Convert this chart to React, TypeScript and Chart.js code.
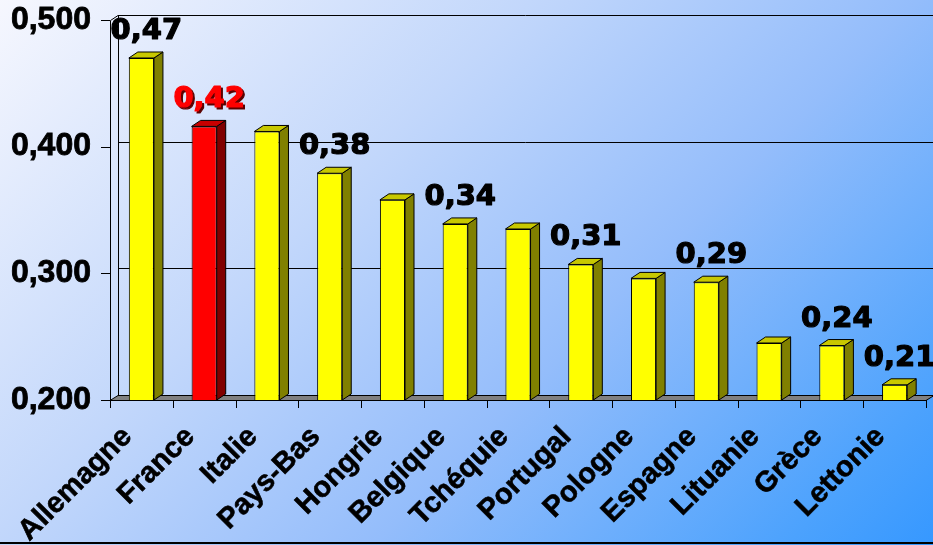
import { useEffect, useRef } from 'react';
import { Chart, registerables } from 'chart.js';

Chart.register(...registerables);

const countries = ['Allemagne', 'France', 'Italie', 'Pays-Bas', 'Hongrie', 'Belgique', 'Tchéquie', 'Portugal', 'Pologne', 'Espagne', 'Lituanie', 'Grèce', 'Lettonie'];
const values = [0.470, 0.416, 0.412, 0.379, 0.358, 0.339, 0.335, 0.307, 0.296, 0.293, 0.245, 0.243, 0.212];
const valueLabels = ['0,47', '0,42', '', '0,38', '', '0,34', '', '0,31', '', '0,29', '', '0,24', '0,21'];
const highlighted = ['France'];
const yMin = 0.2;
const yMax = 0.5;
const yStep = 0.1;

const W = 933;
const H = 545;
const WALL_DX = 8;
const WALL_DY = -5;
const BAR_DX = 9;
const BAR_DY = -6;
const AXIS_FONT = 'Arial, "Liberation Sans", sans-serif';
const LABEL_FONT = '"DejaVu Sans", Verdana, sans-serif';

const colorsFor = (name: string) =>
  highlighted.includes(name)
    ? { front: '#ff0000', side: '#800000', top: '#c80000' }
    : { front: '#ffff00', side: '#808000', top: '#c8c800' };

const backgroundPlugin = {
  id: 'bg',
  beforeDraw(chart: any) {
    const ctx = chart.ctx;
    const d = (W + H) / 2;
    const g = ctx.createLinearGradient(0, 0, d, d);
    g.addColorStop(0, '#f6f7fe');
    g.addColorStop(0.36, '#c2d7fb');
    g.addColorStop(0.62, '#94bdfb');
    g.addColorStop(0.9, '#4ca2fd');
    g.addColorStop(1, '#3698ff');
    ctx.save();
    ctx.fillStyle = g;
    ctx.fillRect(0, 0, W, H);
    ctx.restore();
  },
  afterDraw(chart: any) {
    const ctx = chart.ctx;
    ctx.save();
    ctx.fillStyle = '#000';
    ctx.fillRect(0, 542, W, 2);
    ctx.restore();
  },
};

const framePlugin = {
  id: 'frame3d',
  beforeDatasetsDraw(chart: any) {
    const ctx = chart.ctx;
    const { left, right, top, bottom } = chart.chartArea;
    const ys = chart.scales.y;
    ctx.save();
    ctx.strokeStyle = '#000';
    ctx.lineWidth = 1;
    // floor
    ctx.beginPath();
    ctx.moveTo(left, bottom + 0.5);
    ctx.lineTo(right, bottom + 0.5);
    ctx.lineTo(right + WALL_DX, bottom + WALL_DY + 0.5);
    ctx.lineTo(left + WALL_DX, bottom + WALL_DY + 0.5);
    ctx.closePath();
    ctx.fillStyle = '#808080';
    ctx.fill();
    ctx.stroke();
    // back gridlines
    for (let v = yMin + yStep; v <= yMax + 1e-9; v += yStep) {
      const y = Math.round(ys.getPixelForValue(v) + WALL_DY) + 0.5;
      ctx.beginPath();
      ctx.moveTo(left + WALL_DX, y);
      ctx.lineTo(W, y);
      ctx.stroke();
    }
    // back left edge
    ctx.beginPath();
    ctx.moveTo(left + WALL_DX + 0.5, top + WALL_DY);
    ctx.lineTo(left + WALL_DX + 0.5, bottom + WALL_DY);
    ctx.stroke();
    // front axis + top diagonal
    ctx.beginPath();
    ctx.moveTo(left + WALL_DX, top + WALL_DY + 0.5);
    ctx.lineTo(left + 0.5, top + 0.5);
    ctx.lineTo(left + 0.5, bottom);
    ctx.stroke();
    // y tick marks
    for (let v = yMin; v <= yMax + 1e-9; v += yStep) {
      const y = Math.round(ys.getPixelForValue(v)) + 0.5;
      ctx.beginPath();
      ctx.moveTo(left - 9, y);
      ctx.lineTo(left, y);
      ctx.stroke();
    }
    // x tick marks at category boundaries
    const n = countries.length;
    for (let i = 0; i <= n; i++) {
      const x = Math.round(left + ((right - left) * i) / n) + 0.5;
      ctx.beginPath();
      ctx.moveTo(x, bottom);
      ctx.lineTo(x, bottom + 8);
      ctx.stroke();
    }
    ctx.restore();
  },
  afterDatasetsDraw(chart: any) {
    const ctx = chart.ctx;
    const meta = chart.getDatasetMeta(0);
    const bottom = chart.chartArea.bottom;
    ctx.save();
    ctx.strokeStyle = '#000';
    ctx.lineWidth = 1;
    meta.data.forEach((bar: any, i: number) => {
      const c = colorsFor(countries[i]);
      const l = bar.x - bar.width / 2;
      const r = bar.x + bar.width / 2;
      const t = bar.y;
      const b = Math.min(bar.base, bottom);
      // side
      ctx.beginPath();
      ctx.moveTo(r, t);
      ctx.lineTo(r + BAR_DX, t + BAR_DY);
      ctx.lineTo(r + BAR_DX, b + BAR_DY);
      ctx.lineTo(r, b);
      ctx.closePath();
      ctx.fillStyle = c.side;
      ctx.fill();
      ctx.stroke();
      // top
      ctx.beginPath();
      ctx.moveTo(l, t);
      ctx.lineTo(l + BAR_DX, t + BAR_DY);
      ctx.lineTo(r + BAR_DX, t + BAR_DY);
      ctx.lineTo(r, t);
      ctx.closePath();
      ctx.fillStyle = c.top;
      ctx.fill();
      ctx.stroke();
    });
    // value labels
    ctx.font = `bold 29px ${LABEL_FONT}`;
    ctx.textAlign = 'center';
    ctx.textBaseline = 'alphabetic';
    ctx.lineJoin = 'round';
    meta.data.forEach((bar: any, i: number) => {
      const txt = valueLabels[i];
      if (!txt) return;
      const x = bar.x + 5;
      const y = bar.y - 19;
      const draw = (color: string, dx: number, dy: number) => {
        ctx.fillStyle = color;
        ctx.strokeStyle = color;
        ctx.lineWidth = 1.2;
        ctx.fillText(txt, x + dx, y + dy);
        ctx.strokeText(txt, x + dx, y + dy);
      };
      if (highlighted.includes(countries[i])) {
        draw('#5a0000', 2, 2);
        draw('#ff0000', 0, 0);
      } else {
        draw('#000', 0, 0);
      }
    });
    ctx.restore();
  },
};

export default function App() {
  const ref = useRef<HTMLCanvasElement | null>(null);

  useEffect(() => {
    if (!ref.current) return;
    const chart = new Chart(ref.current, {
      type: 'bar',
      data: {
        labels: countries,
        datasets: [
          {
            data: values,
            backgroundColor: countries.map((c) => colorsFor(c).front),
            borderColor: '#000',
            borderWidth: 1,
            barPercentage: 0.4,
            categoryPercentage: 1,
          },
        ],
      },
      options: {
        responsive: false,
        animation: false,
        devicePixelRatio: 1,
        layout: { padding: { left: 0, right: 7, top: 20, bottom: 0 } },
        plugins: { legend: { display: false }, tooltip: { enabled: false }, title: { display: false } },
        scales: {
          x: {
            grid: { display: false, drawTicks: false },
            border: { display: false },
            ticks: {
              autoSkip: false,
              maxRotation: 45,
              minRotation: 45,
              padding: 20,
              labelOffset: -14,
              color: '#000',
              textStrokeColor: '#000',
              textStrokeWidth: 0.6,
              font: { family: AXIS_FONT, size: 29, weight: 'bold' },
            },
            afterFit: (s: any) => {
              s.height = 145;
              s.paddingLeft = 0;
              s.paddingRight = 0;
            },
          },
          y: {
            min: yMin,
            max: yMax,
            grid: { display: false, drawTicks: false },
            border: { display: false },
            ticks: {
              stepSize: yStep,
              padding: 19,
              color: '#000',
              textStrokeColor: '#000',
              textStrokeWidth: 0.8,
              font: { family: AXIS_FONT, size: 32, weight: 'bold' },
              callback: (v: any) => Number(v).toFixed(3).replace('.', ','),
            },
            afterFit: (s: any) => {
              s.width = 110;
              s.paddingTop = 0;
              s.paddingBottom = 0;
            },
          },
        },
      } as any,
      plugins: [backgroundPlugin, framePlugin],
    });
    return () => chart.destroy();
  }, []);

  return (
    <div style={{ position: 'fixed', left: 0, top: 0, width: W, height: H }}>
      <canvas ref={ref} width={W} height={H} style={{ width: W, height: H, display: 'block' }} />
    </div>
  );
}
